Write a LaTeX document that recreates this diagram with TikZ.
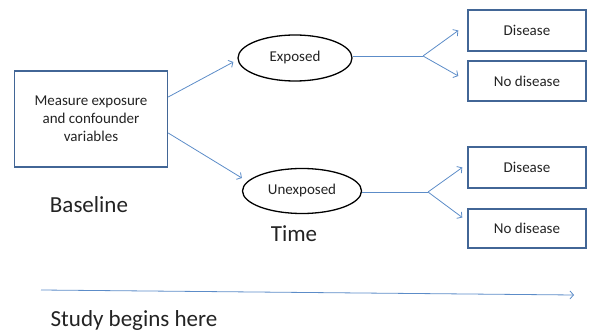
\documentclass[tikz,border=0pt]{standalone}
\usepackage{fontspec}
\setmainfont{Carlito}
\usepackage{tikz}
\usetikzlibrary{shapes.geometric,arrows.meta}
\definecolor{boxblue}{RGB}{66,102,150}
\definecolor{lineblue}{RGB}{92,140,200}
\definecolor{inkgray}{RGB}{35,35,35}

\begin{document}
\begin{tikzpicture}[x=1pt,y=-1pt,text=inkgray,
	box/.style={draw=boxblue,line width=1.4pt,inner sep=0pt,align=center,font=\fontsize{15}{18}\selectfont},
	oval/.style={draw,ellipse,line width=1.3pt,inner sep=0pt,font=\fontsize{15}{18}\selectfont},
	conn/.style={draw=lineblue,line width=0.8pt,-{Straight Barb[length=3.5pt,width=8pt]}},
	plain/.style={draw=lineblue,line width=0.8pt},
	big/.style={font=\fontsize{23}{27}\selectfont}]
		\useasboundingbox (0,0) rectangle (589,331);
		\node[box,minimum width=153pt,minimum height=96pt] (meas) at (91,119) {Measure exposure\\and confounder\\variables};
		\node[oval,minimum width=114pt,minimum height=46pt] (exp) at (295,58) {Exposed};
		\node[oval,minimum width=119pt,minimum height=45pt] (unexp) at (302,191) {Unexposed};
		\node[box,minimum width=118pt,minimum height=41pt] (dis1) at (527,30.5) {Disease};
		\node[box,minimum width=118pt,minimum height=40pt] (nod1) at (527,81) {No disease};
		\node[box,minimum width=118pt,minimum height=41pt] (dis2) at (527,167.5) {Disease};
		\node[box,minimum width=118pt,minimum height=39pt] (nod2) at (527,228.5) {No disease};
		\node[big] (base) at (89,205) {Baseline};
		\node[big] (time) at (294,234) {Time};
		\node[big] (study) at (134,320) {Study begins here};
		\coordinate (fork1) at (423,56);
		\coordinate (fork2) at (428,192);
		\coordinate (start) at (41,290);
		\coordinate (stop) at (574,295);
		\draw[conn] ([yshift=22pt]meas.east) -- ([xshift=-4pt,yshift=-4pt]exp.west);
		\draw[conn] ([yshift=-14pt]meas.east) -- ([yshift=13pt]unexp.west);
		\draw[plain] (exp.east |- fork1) -- (fork1);
		\draw[conn] (fork1) -- ([xshift=-9pt]dis1.west);
		\draw[conn] (fork1) -- ([xshift=-9pt,yshift=5pt]nod1.west);
		\draw[plain] (unexp.east |- fork2) -- (fork2);
		\draw[conn] (fork2) -- ([xshift=-5pt]dis2.west);
		\draw[conn] (fork2) -- ([xshift=-5pt,yshift=11pt]nod2.west);
		\draw[conn] (start) -- (stop);
		\end{tikzpicture}
\end{document}
